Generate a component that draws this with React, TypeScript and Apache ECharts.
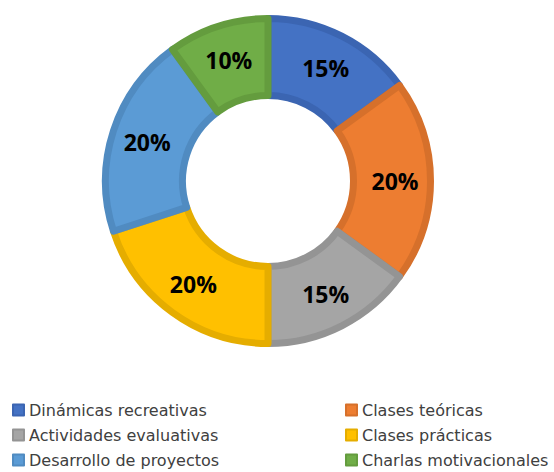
import React, { useEffect, useRef } from "react";
import * as echarts from "echarts";

const categories = [
  "Dinámicas recreativas",
  "Clases teóricas",
  "Actividades evaluativas",
  "Clases prácticas",
  "Desarrollo de proyectos",
  "Charlas motivacionales",
];
const values = [15, 20, 15, 20, 20, 10];
const fillColors = ["#4472C4", "#ED7D31", "#A5A5A5", "#FFC000", "#5B9BD5", "#70AD47"];
const borderColors = ["#3B65B2", "#D6702B", "#949494", "#E5AD00", "#508BC1", "#649C3E"];
const legendLeft = ["Dinámicas recreativas", "Actividades evaluativas", "Desarrollo de proyectos"];
const legendRight = ["Clases teóricas", "Clases prácticas", "Charlas motivacionales"];

export default function App() {
  const ref = useRef<HTMLDivElement>(null);
  useEffect(() => {
    if (!ref.current) return;
    const chart = echarts.init(ref.current, null, { renderer: "svg" });
    const legendCommon = {
      orient: "vertical" as const,
      top: 402,
      icon: "rect",
      itemWidth: 11,
      itemHeight: 11,
      itemGap: 9,
      padding: 0,
      selectedMode: false,
      textStyle: {
        fontFamily: "DejaVu Sans",
        fontSize: 16,
        lineHeight: 16,
        color: "#404040",
      },
    };
    chart.setOption({
      animation: false,
      backgroundColor: "#ffffff",
      legend: [
        { ...legendCommon, left: 12, data: legendLeft },
        { ...legendCommon, left: 345, data: legendRight },
      ],
      series: [
        {
          type: "pie",
          center: [268, 181],
          radius: [85.5, 162.5],
          startAngle: 90,
          clockwise: true,
          silent: true,
          label: {
            show: true,
            position: "inside",
            formatter: "{c}%",
            fontFamily: "Open Sans",
            fontWeight: "bold",
            fontSize: 23,
            color: "#000000",
          },
          labelLine: { show: false },
          emphasis: { disabled: true },
          data: categories.map((name, i) => ({
            name,
            value: values[i],
            itemStyle: {
              color: fillColors[i],
              borderColor: borderColors[i],
              borderWidth: 7,
            },
          })),
        },
      ],
    });
    return () => chart.dispose();
  }, []);
  return (
    <div
      ref={ref}
      style={{ position: "fixed", left: 0, top: 0, width: 554, height: 472 }}
    />
  );
}
